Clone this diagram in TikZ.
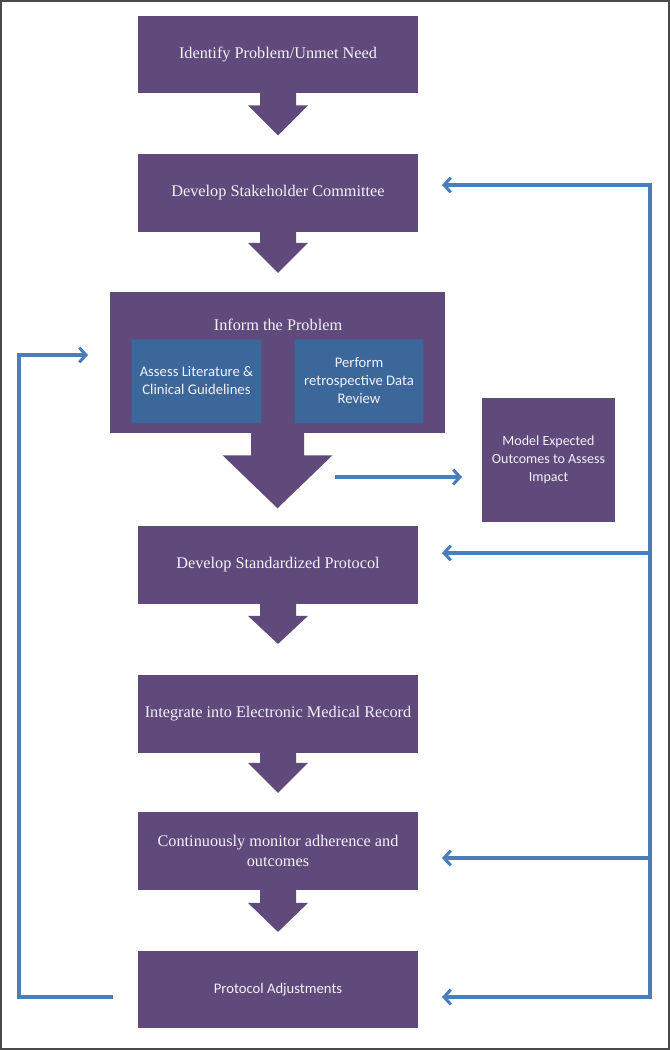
\documentclass[tikz,border=0pt]{standalone}
\usepackage{fontspec}
\setmainfont{Liberation Serif}
\newfontfamily\carlitofont{Carlito}
\usetikzlibrary{calc,arrows.meta}
\definecolor{purp}{HTML}{5F4A7B}
\definecolor{innerblue}{HTML}{3C679B}
\definecolor{fblue}{HTML}{4A7EBB}
\definecolor{txt}{HTML}{F4F1F8}
\definecolor{frame}{HTML}{4A4A4A}
\tikzset{
  pbox/.style={fill=purp, draw=none, text=txt, align=center, inner sep=0pt,
    minimum width=210pt, minimum height=58pt, font=\fontsize{12.2}{15}\selectfont},
  ibox/.style={fill=innerblue, draw=purp!60!innerblue, line width=0.6pt, text=txt, align=center, inner sep=0pt,
    minimum width=97pt, minimum height=63pt, font=\carlitofont\fontsize{11}{13.5}\selectfont},
  sbox/.style={pbox, font=\carlitofont\fontsize{11}{13.5}\selectfont},
  fb/.style={draw=fblue, line width=2.3pt, -{Straight Barb[length=5pt,width=11pt,line width=2.3pt]}},
  fbl/.style={draw=fblue, line width=2.3pt},
}
\newcommand\blockarr[5]{%
  \fill[purp] ($(#1.south)+(-#4,-1)$) -- ($(#1.south)+(-#4,#2)$) -- ($(#1.south)+(-#5,#2)$) --
    ($(#1.south)+(0,#3)$) -- ($(#1.south)+(#5,#2)$) -- ($(#1.south)+(#4,#2)$) --
    ($(#1.south)+(#4,-1)$) -- cycle;}
\begin{document}
\begin{tikzpicture}[x=0.75pt,y=-0.75pt]
\useasboundingbox (0,0) rectangle (670,1050);
\draw[frame, line width=2pt] (1,1) rectangle (669,1049);

\node[pbox] (b1) at (278,54.5) {Identify Problem/Unmet Need};
\node[pbox] (b2) at (278,193) {Develop Stakeholder Committee};
\node[pbox, minimum width=251pt, minimum height=105.75pt] (b3) at (277.5,362.5) {};
\node[text=txt, font=\fontsize{12.2}{15}\selectfont] (b3t) at (278,325) {Inform the Problem};
\node[ibox] (i1) at (196.5,381) {Assess Literature \&\\Clinical Guidelines};
\node[ibox] (i2) at (359,381) {Perform\\retrospective Data\\Review};
\node[sbox, minimum width=100pt, minimum height=93pt, font=\carlitofont\fontsize{10.5}{13.5}\selectfont] (m) at (548.5,460) {Model Expected\\Outcomes to Assess\\Impact};
\node[pbox] (b4) at (278,565) {Develop Standardized Protocol};
\node[pbox] (b5) at (278,714) {Integrate into Electronic Medical Record};
\node[pbox] (b6) at (278,851) {Continuously monitor adherence and\\outcomes};
\node[sbox] (b7) at (278,989.5) {Protocol Adjustments};

\blockarr{b1}{12}{42}{18}{30}
\blockarr{b2}{11}{41}{18}{30}
\blockarr{b3}{22}{75}{26.5}{55}
\blockarr{b4}{12}{40}{18}{30}
\blockarr{b5}{10}{40}{18}{30}
\blockarr{b6}{13}{42}{18}{30}

% to model
\coordinate (m0) at (335,477);
\coordinate (m1) at (462,477);
\draw[fb] (m0) -- (m1);

% right feedback
\coordinate (rT) at (650,185);
\coordinate (rB) at (650,997);
\coordinate (a2) at (442,185);
\coordinate (a4) at (442,553);
\coordinate (a6) at (442,858);
\coordinate (a7) at (442,997);
\draw[fbl] (rT) -- (rB);
\draw[fb] ([xshift=1.15pt]rT) -- (a2);
\draw[fb] (rT |- a4) -- (a4);
\draw[fb] (rT |- a6) -- (a6);
\draw[fb] ([xshift=1.15pt]rB) -- (a7);

% left feedback
\coordinate (l0) at (113,997);
\coordinate (l1) at (19,997);
\coordinate (l2) at (19,355);
\coordinate (l3) at (88,355);
\draw[fb, line join=miter] (l0) -- (l1) -- (l2) -- (l3);
\end{tikzpicture}
\end{document}
